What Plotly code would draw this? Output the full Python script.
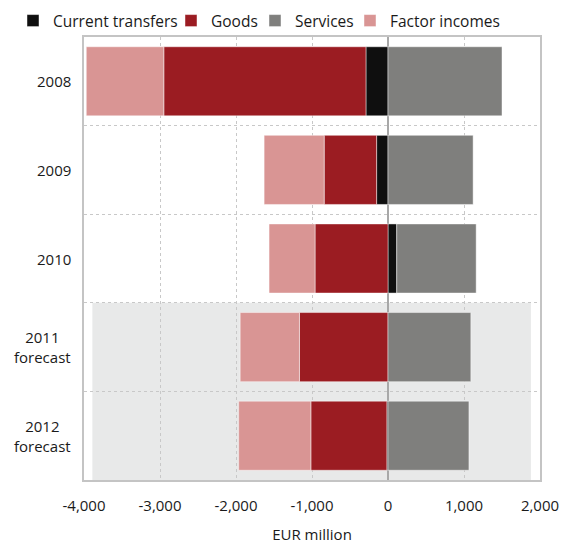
import plotly.graph_objects as go

# Balance of payments components, EUR million
years = ["2008", "2009", "2010", "2011<br>forecast", "2012<br>forecast"]
current_transfers = [-290, -150, 115, 0, -15]
goods = [-2660, -690, -960, -1165, -1000]
services = [1500, 1120, 1045, 1090, 1065]
factor_incomes = [-1020, -790, -605, -780, -950]

x_ticks = [-4000, -3000, -2000, -1000, 0, 1000, 2000]
x_tick_text = ["-4,000", "-3,000", "-2,000", "-1,000", "0", "1,000", "2,000"]

series = [
    ("Current transfers", current_transfers, "#0f0f0f"),
    ("Goods", goods, "#9b1c22"),
    ("Services", services, "#7f7f7d"),
    ("Factor incomes", factor_incomes, "#d99594"),
]
# left edge (px) of each legend entry along the top row
legend_left = [13, 171, 255, 350]

FONT = "Open Sans"
TEXT = "#1a1a1a"
W, H = 570, 544

fig = go.Figure()
legend_layouts = {}
for k, (name, vals, color) in enumerate(series):
    lg = "legend" if k == 0 else f"legend{k + 1}"
    fig.add_trace(go.Bar(
        y=years, x=vals, name=name, orientation="h", legend=lg,
        marker=dict(color=color, line=dict(color="rgba(255,255,255,0.45)", width=1)),
    ))
    legend_layouts[lg] = dict(
        orientation="h", xref="container", yref="container",
        x=legend_left[k] / W, y=1 - 4 / H, xanchor="left", yanchor="top",
        font=dict(family=FONT, size=15.5, color=TEXT), bgcolor="rgba(0,0,0,0)",
        itemclick=False, itemdoubleclick=False,
    )

# shaded band behind the forecast years
fig.add_shape(type="rect", xref="x", yref="y", x0=-3890, x1=1880, y0=2.5, y1=4.5,
              fillcolor="#e8e9e9", line=dict(width=0), layer="below")

# category labels, centred line by line
for i, lab in enumerate(years):
    fig.add_annotation(x=0, xref="paper", y=i, yref="y", text=lab, showarrow=False,
                       xanchor="right", align="center", xshift=-11,
                       font=dict(family=FONT, size=15, color=TEXT))

fig.update_layout(
    width=W, height=H,
    margin=dict(l=84, r=30, t=37, b=64, autoexpand=False),
    barmode="relative", bargap=0.22,
    plot_bgcolor="white", paper_bgcolor="white",
    font=dict(family=FONT, size=15, color=TEXT),
    showlegend=True,
    **legend_layouts,
)
fig.update_xaxes(
    range=[-4000, 2000], tickvals=x_ticks, ticktext=x_tick_text,
    showgrid=True, gridcolor="#c8c8c8", griddash="dot", gridwidth=1,
    zeroline=True, zerolinecolor="#a8a8a8", zerolinewidth=2,
    showline=True, linecolor="#c4c4c4", linewidth=2, mirror=True,
    ticks="", ticklabelstandoff=11, tickfont=dict(family=FONT, size=15, color=TEXT),
    title=dict(text="EUR million", font=dict(family=FONT, size=15, color=TEXT), standoff=15),
)
fig.update_yaxes(
    type="category", categoryorder="array", categoryarray=years,
    range=[4.5, -0.5], tickson="boundaries",
    showticklabels=False, ticks="",
    showgrid=True, gridcolor="#c8c8c8", griddash="dot", gridwidth=1,
    showline=True, linecolor="#c4c4c4", linewidth=2, mirror=True,
)

fig.write_html("out.html")
